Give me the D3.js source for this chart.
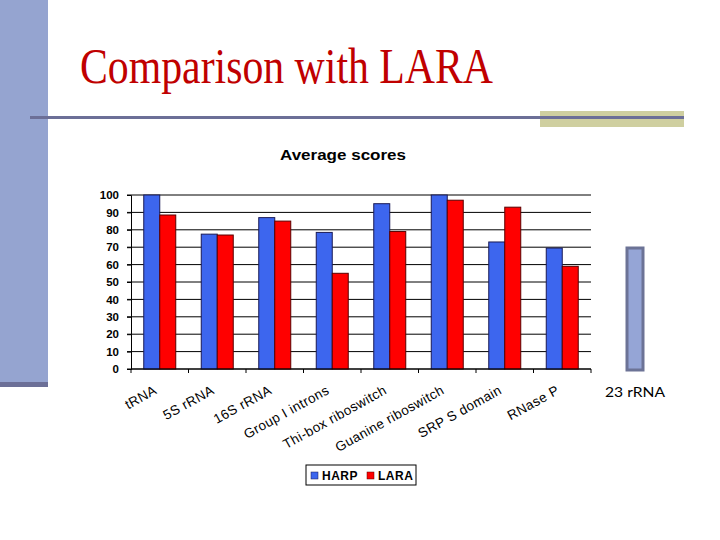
<!DOCTYPE html>
<html>
	<head>
		<meta charset="utf-8">
		<title>Comparison with LARA</title>
		<style>
			html, body { margin: 0; padding: 0; background: #fff; }
			svg { display: block; }
			.tick text { font-family: "Liberation Sans", Arial, sans-serif; }
		</style>
	</head>
	<body>
		<div id="slide"></div>

		<script src="https://cdn.jsdelivr.net/npm/d3@7"></script>
		<script>
			// chart values
			var categories = ["tRNA", "5S rRNA", "16S rRNA", "Group I introns", "Thi-box riboswitch",
				"Guanine riboswitch", "SRP S domain", "RNase P"]
			var harp = [100, 77.5, 87, 78.5, 95, 100, 73, 69.5]
			var lara = [88.5, 77, 85, 55, 79, 97, 93, 59]
			var series = ["HARP", "LARA"]
			var yTicks = [0, 10, 20, 30, 40, 50, 60, 70, 80, 90, 100]

			var colors = { HARP: "#3d66ee", LARA: "#ff0000" }
			var outline = { HARP: "#1a1a55", LARA: "#5a0000" }

			var width = 720, height = 540

			var svg = d3.select("#slide").append("svg")
				.attr("width", width)
				.attr("height", height)

			// slide decoration
			svg.append("rect").attr("x", 0).attr("y", 0).attr("width", 48).attr("height", 383).attr("fill", "#95a4d0")
			svg.append("rect").attr("x", 0).attr("y", 382).attr("width", 48).attr("height", 5).attr("fill", "#6c6f97")
			svg.append("rect").attr("x", 540).attr("y", 111).attr("width", 144).attr("height", 16).attr("fill", "#cfcfa0")
			svg.append("rect").attr("x", 30).attr("y", 116).attr("width", 654).attr("height", 3).attr("fill", "#6c6f97")

			svg.append("text")
				.attr("x", 80).attr("y", 83)
				.attr("font-family", "'Liberation Serif', 'Times New Roman', serif")
				.attr("font-size", 51)
				.attr("fill", "#c00000")
				.attr("textLength", 413)
				.attr("lengthAdjust", "spacingAndGlyphs")
				.text("Comparison with LARA")

			// chart
			var plot = { left: 131, right: 591, top: 195, bottom: 369 }

			var x = d3.scaleBand().domain(categories).range([plot.left, plot.right])
			var xs = d3.scaleBand().domain(series).range([0, 32])
			var y = d3.scaleLinear().domain([0, 100]).range([plot.bottom, plot.top])

			svg.append("text")
				.attr("x", 343).attr("y", 160)
				.attr("text-anchor", "middle")
				.attr("font-family", "'Liberation Sans', Arial, sans-serif")
				.attr("font-weight", "bold")
				.attr("font-size", 15)
				.attr("textLength", 126)
				.attr("lengthAdjust", "spacingAndGlyphs")
				.text("Average scores")

			// gridlines
			svg.append("g").selectAll("line")
				.data(yTicks)
				.enter().append("line")
				.attr("x1", plot.left - 4).attr("x2", plot.right)
				.attr("y1", function(d) { return y(d) }).attr("y2", function(d) { return y(d) })
				.attr("stroke", "#000").attr("stroke-width", 1)

			var yAxis = svg.append("g")
				.attr("transform", "translate(" + plot.left + ",0)")
				.call(d3.axisLeft(y).tickValues(yTicks).tickSize(4).tickPadding(8))
			yAxis.select(".domain").attr("stroke", "#000")
			yAxis.selectAll("text").attr("font-size", 11.5).attr("font-weight", "bold").attr("fill", "#000")

			// bars
			var groups = svg.append("g").selectAll("g")
				.data(categories)
				.enter().append("g")
				.attr("transform", function(d) { return "translate(" + (x(d) + 12.75) + ",0)" })

			groups.selectAll("rect")
				.data(function(d, i) { return [{ s: "HARP", v: harp[i] }, { s: "LARA", v: lara[i] }] })
				.enter().append("rect")
				.attr("x", function(d) { return xs(d.s) })
				.attr("width", xs.bandwidth())
				.attr("y", function(d) { return y(d.v) })
				.attr("height", function(d) { return y(0) - y(d.v) })
				.attr("fill", function(d) { return colors[d.s] })
				.attr("stroke", function(d) { return outline[d.s] })
				.attr("stroke-width", 1)

			// x axis with ticks at category edges
			svg.append("line")
				.attr("x1", plot.left).attr("x2", plot.right)
				.attr("y1", plot.bottom).attr("y2", plot.bottom)
				.attr("stroke", "#000")
			svg.append("g").selectAll("line")
				.data(categories.concat(["_end"]))
				.enter().append("line")
				.attr("x1", function(d, i) { return plot.left + i * x.step() })
				.attr("x2", function(d, i) { return plot.left + i * x.step() })
				.attr("y1", plot.bottom).attr("y2", plot.bottom + 4)
				.attr("stroke", "#000")

			svg.append("g").selectAll("text")
				.data(categories)
				.enter().append("text")
				.attr("transform", function(d) {
					return "translate(" + (x(d) + x.bandwidth() / 2 - 2) + "," + (plot.bottom + 24) + ") rotate(-29)"
				})
				.attr("text-anchor", "end")
				.attr("font-family", "'Liberation Sans', Arial, sans-serif")
				.attr("font-size", 13.5)
				.attr("letter-spacing", 0.4)
				.attr("fill", "#000")
				.text(function(d) { return d })

			// legend
			var legend = svg.append("g")
			legend.append("rect")
				.attr("x", 306).attr("y", 465).attr("width", 110).attr("height", 20)
				.attr("fill", "#fff").attr("stroke", "#000")
			var items = legend.selectAll("g")
				.data(series)
				.enter().append("g")
				.attr("transform", function(d, i) { return "translate(" + (311 + i * 56) + ",472)" })
			items.append("rect")
				.attr("width", 7).attr("height", 7)
				.attr("fill", function(d) { return colors[d] })
				.attr("stroke", function(d) { return outline[d] })
				.attr("stroke-width", 0.5)
			items.append("text")
				.attr("x", 11).attr("y", 7.5)
				.attr("font-family", "'Liberation Sans', Arial, sans-serif")
				.attr("font-weight", "bold")
				.attr("font-size", 12)
				.attr("letter-spacing", 0.5)
				.text(function(d) { return d })

			// side marker
			svg.append("rect")
				.attr("x", 627).attr("y", 248).attr("width", 16).attr("height", 122)
				.attr("fill", "#95a5d6").attr("stroke", "#6c7396").attr("stroke-width", 3)
			svg.append("text")
				.attr("x", 605).attr("y", 397)
				.attr("font-family", "Lato, 'Open Sans', sans-serif")
				.attr("font-size", 14)
				.attr("textLength", 60)
				.attr("lengthAdjust", "spacingAndGlyphs")
				.text("23 rRNA")
		</script>
	</body>
</html>
